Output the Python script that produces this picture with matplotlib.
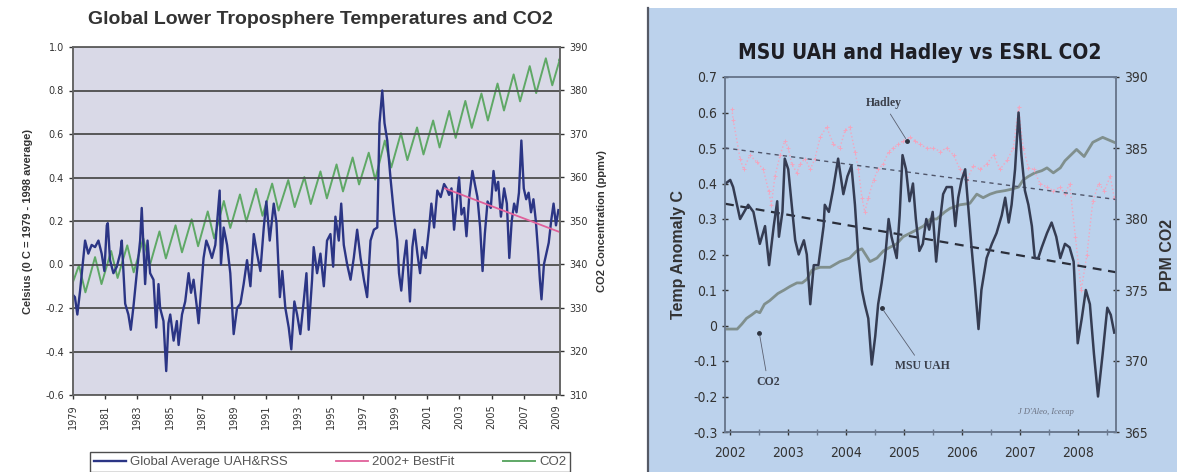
import matplotlib
matplotlib.use('Agg')
import matplotlib.pyplot as plt
from matplotlib import font_manager
from matplotlib.patches import Rectangle
from matplotlib.lines import Line2D

ttf = font_manager.fontManager.ttflist
names = {f.name for f in ttf}
SANS = 'Liberation Sans' if 'Liberation Sans' in names else 'DejaVu Sans'
SERIF = 'Liberation Serif' if 'Liberation Serif' in names else 'DejaVu Serif'
HAS_NARROW = 'Liberation Sans Narrow' in names
HAS_DJ_COND = any(f.name == 'DejaVu Sans' and str(f.stretch) in ('condensed', 'semi-condensed')
                  for f in ttf)
if HAS_NARROW:
    NARROW_KW = dict(family='Liberation Sans Narrow')
    TITLE_SIZE = 18
elif HAS_DJ_COND:
    NARROW_KW = dict(family='DejaVu Sans', stretch='condensed')
    TITLE_SIZE = 15
else:
    NARROW_KW = dict(family=SANS)
    TITLE_SIZE = 14

# ---------------- Left chart data ----------------
left_title = 'Global Lower Troposphere Temperatures and CO2'
left_xticks = list(range(1979, 2010, 2))
left_yticks = [-0.6, -0.4, -0.2, 0.0, 0.2, 0.4, 0.6, 0.8, 1.0]
left_y2ticks = [310, 320, 330, 340, 350, 360, 370, 380, 390]

temp_years = [1979.00, 1979.12, 1979.27, 1979.44, 1979.60, 1979.75, 1979.95, 1980.16, 1980.37, 1980.58,
              1980.78, 1980.95, 1981.10, 1981.16, 1981.30, 1981.51, 1981.72, 1981.93, 1982.03, 1982.24,
              1982.44, 1982.59, 1982.76, 1982.96, 1983.17, 1983.27, 1983.48, 1983.63, 1983.79, 1984.00,
              1984.17, 1984.31, 1984.41, 1984.62, 1984.79, 1984.93, 1985.04, 1985.25, 1985.45, 1985.56,
              1985.77, 1985.97, 1986.18, 1986.33, 1986.49, 1986.70, 1986.80, 1987.01, 1987.11, 1987.28,
              1987.43, 1987.63, 1987.84, 1988.11, 1988.19, 1988.36, 1988.57, 1988.77, 1988.98, 1989.19,
              1989.40, 1989.60, 1989.81, 1990.02, 1990.23, 1990.43, 1990.64, 1990.85, 1991.01, 1991.22,
              1991.47, 1991.64, 1991.85, 1992.00, 1992.19, 1992.40, 1992.56, 1992.75, 1992.92, 1993.12,
              1993.33, 1993.50, 1993.64, 1993.85, 1993.95, 1994.16, 1994.37, 1994.58, 1994.78, 1994.99,
              1995.16, 1995.30, 1995.51, 1995.66, 1995.82, 1996.03, 1996.24, 1996.44, 1996.65, 1996.86,
              1997.07, 1997.27, 1997.48, 1997.69, 1997.90, 1998.04, 1998.21, 1998.35, 1998.52, 1998.73,
              1998.94, 1999.14, 1999.25, 1999.39, 1999.56, 1999.71, 1999.83, 1999.93, 2000.08, 2000.22,
              2000.39, 2000.56, 2000.70, 2000.91, 2001.12, 2001.26, 2001.43, 2001.63, 2001.84, 2002.05,
              2002.21, 2002.36, 2002.51, 2002.67, 2002.84, 2002.98, 2003.13, 2003.29, 2003.44, 2003.61,
              2003.81, 2003.96, 2004.12, 2004.29, 2004.44, 2004.58, 2004.75, 2004.95, 2005.12, 2005.27,
              2005.41, 2005.58, 2005.78, 2005.95, 2006.10, 2006.25, 2006.40, 2006.55, 2006.70, 2006.85,
              2007.00, 2007.15, 2007.30, 2007.45, 2007.60, 2007.75, 2007.90, 2008.00, 2008.10, 2008.25,
              2008.40, 2008.55, 2008.70, 2008.85, 2009.00, 2009.15]
temp_values = [-0.14, -0.15, -0.23, -0.12, 0.00, 0.11, 0.05, 0.09, 0.08, 0.11,
               0.05, -0.03, 0.18, 0.19, 0.02, -0.04, -0.01, 0.05, 0.11, -0.18,
               -0.23, -0.30, -0.19, -0.04, 0.11, 0.26, -0.09, 0.11, -0.04, -0.07,
               -0.29, -0.09, -0.20, -0.26, -0.49, -0.27, -0.23, -0.35, -0.26, -0.37,
               -0.23, -0.17, -0.04, -0.13, -0.07, -0.20, -0.27, -0.07, 0.03, 0.11,
               0.08, 0.03, 0.09, 0.34, 0.00, 0.17, 0.09, -0.04, -0.32, -0.20,
               -0.18, -0.09, 0.02, -0.10, 0.14, 0.05, -0.03, 0.17, 0.29, 0.11,
               0.28, 0.19, -0.15, -0.03, -0.20, -0.29, -0.39, -0.17, -0.23, -0.32,
               -0.17, -0.04, -0.30, -0.07, 0.08, -0.04, 0.05, -0.10, 0.11, 0.14,
               -0.01, 0.22, 0.11, 0.28, 0.09, 0.00, -0.07, 0.03, 0.16, 0.03,
               -0.07, -0.15, 0.11, 0.16, 0.17, 0.65, 0.80, 0.65, 0.57, 0.39,
               0.23, 0.11, -0.04, -0.12, 0.02, 0.11, -0.04, -0.17, 0.08, 0.16,
               0.05, -0.04, 0.08, 0.03, 0.17, 0.28, 0.17, 0.34, 0.31, 0.37,
               0.35, 0.32, 0.35, 0.16, 0.29, 0.40, 0.23, 0.26, 0.13, 0.31,
               0.43, 0.37, 0.31, 0.17, -0.03, 0.14, 0.29, 0.26, 0.43, 0.34,
               0.38, 0.22, 0.35, 0.28, 0.03, 0.20, 0.28, 0.24, 0.33, 0.57,
               0.35, 0.30, 0.33, 0.24, 0.30, 0.20, 0.05, -0.07, -0.16, 0.00,
               0.05, 0.10, 0.20, 0.28, 0.18, 0.25]

fit_years = [2002.1, 2009.2]
fit_values = [0.35, 0.15]

co2_cycle_years = list(range(1979, 2010))
co2_peak_ppm = [339.8, 341.7, 343.1, 344.4, 346.0, 347.6, 349.0, 350.4, 352.2, 354.6,
                356.1, 357.4, 358.6, 359.4, 360.1, 361.4, 363.0, 364.6, 365.7, 368.5,
                370.2, 371.5, 373.1, 375.3, 377.6, 379.3, 381.6, 383.7, 385.6, 387.4, 388.8]
co2_trough_ppm = [333.6, 335.5, 336.9, 338.2, 339.8, 341.4, 342.8, 344.2, 346.0, 348.4,
                  349.9, 351.2, 352.4, 353.2, 353.9, 355.2, 356.8, 358.4, 359.5, 362.3,
                  364.0, 365.3, 366.9, 369.1, 371.4, 373.1, 375.4, 377.5, 379.4, 381.2]
co2_start = (1979.0, 336.0)
co2_end = (2009.2, 387.0)
PEAK_PHASE, TROUGH_PHASE = 0.37, 0.77

legend_labels = ['Global Average UAH&RSS', '2002+ BestFit', 'CO2']

# ---------------- Right chart data ----------------
right_title = 'MSU UAH and Hadley vs ESRL CO2'
right_xticks = [2002, 2003, 2004, 2005, 2006, 2007, 2008]
right_yticks = [-0.3, -0.2, -0.1, 0.0, 0.1, 0.2, 0.3, 0.4, 0.5, 0.6, 0.7]
right_ytick_labels = ['-0.3', '-0.2', '-0.1', '0', '0.1', '0.2', '0.3', '0.4', '0.5', '0.6', '0.7']
right_y2ticks = [365, 370, 375, 380, 385, 390]

uah_years = [2001.92, 2002.00, 2002.05, 2002.17, 2002.31, 2002.40, 2002.51, 2002.60, 2002.67, 2002.75,
             2002.81, 2002.84, 2002.90, 2002.94, 2003.00, 2003.12, 2003.18, 2003.27, 2003.32, 2003.38,
             2003.44, 2003.52, 2003.61, 2003.63, 2003.70, 2003.77, 2003.86, 2003.95, 2004.02, 2004.09,
             2004.15, 2004.21, 2004.27, 2004.32, 2004.38, 2004.44, 2004.50, 2004.55, 2004.61, 2004.67,
             2004.73, 2004.78, 2004.87, 2004.92, 2004.97, 2005.03, 2005.09, 2005.15, 2005.20, 2005.26,
             2005.32, 2005.38, 2005.43, 2005.49, 2005.55, 2005.62, 2005.67, 2005.73, 2005.82, 2005.88,
             2005.93, 2005.99, 2006.05, 2006.11, 2006.16, 2006.22, 2006.28, 2006.33, 2006.42, 2006.51,
             2006.59, 2006.68, 2006.74, 2006.80, 2006.85, 2006.91, 2006.97, 2007.02, 2007.08, 2007.14,
             2007.20, 2007.25, 2007.31, 2007.37, 2007.46, 2007.54, 2007.62, 2007.69, 2007.77, 2007.85,
             2007.92, 2007.99, 2008.06, 2008.13, 2008.20, 2008.27, 2008.34, 2008.42, 2008.50, 2008.56,
             2008.62]
uah_values = [0.40, 0.41, 0.39, 0.30, 0.34, 0.32, 0.23, 0.28, 0.17, 0.28,
              0.35, 0.25, 0.32, 0.47, 0.44, 0.24, 0.20, 0.24, 0.20, 0.06,
              0.17, 0.17, 0.28, 0.34, 0.32, 0.38, 0.47, 0.37, 0.42, 0.45,
              0.34, 0.19, 0.10, 0.06, 0.02, -0.11, -0.03, 0.06, 0.12, 0.19,
              0.30, 0.25, 0.19, 0.31, 0.48, 0.44, 0.35, 0.40, 0.30, 0.21,
              0.23, 0.30, 0.27, 0.32, 0.18, 0.30, 0.37, 0.39, 0.39, 0.28,
              0.36, 0.41, 0.44, 0.32, 0.22, 0.11, -0.01, 0.10, 0.19, 0.23,
              0.26, 0.31, 0.36, 0.29, 0.34, 0.44, 0.60, 0.48, 0.38, 0.34,
              0.28, 0.19, 0.19, 0.22, 0.26, 0.29, 0.25, 0.19, 0.23, 0.22,
              0.18, -0.05, 0.02, 0.10, 0.06, -0.08, -0.20, -0.08, 0.05, 0.03,
              -0.02]

hadley_years = [2002.03, 2002.05, 2002.17, 2002.23, 2002.34, 2002.46, 2002.57, 2002.66, 2002.71, 2002.77,
                2002.86, 2002.94, 2003.00, 2003.06, 2003.15, 2003.20, 2003.29, 2003.38, 2003.46, 2003.55,
                2003.66, 2003.78, 2003.89, 2003.98, 2004.06, 2004.15, 2004.21, 2004.27, 2004.32, 2004.38,
                2004.47, 2004.55, 2004.64, 2004.73, 2004.81, 2004.90, 2004.98, 2005.10, 2005.19, 2005.27,
                2005.39, 2005.50, 2005.62, 2005.73, 2005.85, 2005.96, 2006.08, 2006.19, 2006.31, 2006.42,
                2006.54, 2006.65, 2006.77, 2006.88, 2006.97, 2007.05, 2007.14, 2007.23, 2007.34, 2007.46,
                2007.57, 2007.69, 2007.77, 2007.85, 2007.95, 2008.05, 2008.15, 2008.25, 2008.35, 2008.45,
                2008.55, 2008.62]
hadley_values = [0.61, 0.58, 0.47, 0.44, 0.48, 0.46, 0.44, 0.38, 0.34, 0.42,
                 0.48, 0.52, 0.50, 0.455, 0.43, 0.455, 0.47, 0.44, 0.47, 0.53,
                 0.56, 0.51, 0.50, 0.55, 0.56, 0.49, 0.44, 0.36, 0.32, 0.36,
                 0.41, 0.44, 0.455, 0.49, 0.50, 0.51, 0.52, 0.53, 0.52, 0.51,
                 0.50, 0.50, 0.49, 0.50, 0.48, 0.44, 0.41, 0.45, 0.44, 0.455,
                 0.48, 0.44, 0.465, 0.50, 0.615, 0.50, 0.445, 0.44, 0.40, 0.39,
                 0.38, 0.39, 0.37, 0.40, 0.25, 0.10, 0.20, 0.35, 0.40, 0.38,
                 0.42, 0.36]

uah_trend_years = [2001.91, 2008.65]
uah_trend_values = [0.343, 0.150]
hadley_trend_years = [2001.91, 2008.65]
hadley_trend_values = [0.500, 0.355]

esrl_years = [2001.92, 2002.00, 2002.12, 2002.20, 2002.28, 2002.37, 2002.45, 2002.51, 2002.59, 2002.68,
              2002.82, 2002.93, 2003.03, 2003.15, 2003.24, 2003.32, 2003.41, 2003.47, 2003.55, 2003.72,
              2003.89, 2004.06, 2004.18, 2004.27, 2004.41, 2004.53, 2004.64, 2004.75, 2004.87, 2004.98,
              2005.10, 2005.22, 2005.33, 2005.45, 2005.56, 2005.70, 2005.79, 2005.96, 2006.13, 2006.25,
              2006.36, 2006.48, 2006.59, 2006.74, 2006.85, 2006.97, 2007.05, 2007.14, 2007.25, 2007.37,
              2007.46, 2007.57, 2007.69, 2007.77, 2007.97, 2008.10, 2008.25, 2008.42, 2008.62]
esrl_ppm = [372.25, 372.25, 372.25, 372.6, 373.0, 373.25, 373.5, 373.4, 374.0, 374.25,
            374.75, 375.0, 375.25, 375.5, 375.5, 375.75, 376.4, 376.5, 376.6, 376.6,
            377.0, 377.25, 377.75, 377.9, 377.0, 377.25, 377.75, 378.0, 378.25, 378.75,
            379.0, 379.25, 379.5, 380.0, 380.0, 380.5, 380.75, 381.0, 381.1, 381.75,
            381.5, 381.75, 381.9, 382.0, 382.1, 382.25, 382.75, 383.0, 383.25, 383.4,
            383.6, 383.25, 383.6, 384.1, 384.9, 384.4, 385.4, 385.75, 385.4]

# ---------------- Figure ----------------
W, H = 1177, 472
fig = plt.figure(figsize=(W / 100, H / 100), dpi=100)
fig.patch.set_facecolor('white')


def fx(px):
    return px / W


def fy(py):
    return 1 - py / H


# ===== Left chart =====
axT = fig.add_axes([fx(73), fy(395), fx(560) - fx(73), fy(47) - fy(395)])
axC = axT.twinx()
axT.set_zorder(axC.get_zorder() + 1)
axT.patch.set_visible(False)
axC.patch.set_facecolor('#d9d9e7')
axC.patch.set_visible(True)

co2_x = [co2_start[0]]
co2_y = [co2_start[1]]
for i, yr in enumerate(co2_cycle_years):
    co2_x.append(yr + PEAK_PHASE)
    co2_y.append(co2_peak_ppm[i])
    if i < len(co2_trough_ppm):
        co2_x.append(yr + TROUGH_PHASE)
        co2_y.append(co2_trough_ppm[i])
co2_x.append(co2_end[0])
co2_y.append(co2_end[1])
l_co2, = axC.plot(co2_x, co2_y, color='#5fa866', lw=1.4)

l_temp, = axT.plot(temp_years, temp_values, color='#2b3585', lw=1.7)
l_fit, = axT.plot(fit_years, fit_values, color='#e0609a', lw=1.3)

axT.set_xlim(1979, 2009.25)
axT.set_ylim(-0.6, 1.0)
axC.set_ylim(310, 390)
axT.set_yticks(left_yticks)
axT.set_yticklabels([f'{v:.1f}' for v in left_yticks])
axC.set_yticks(left_y2ticks)
axT.set_xticks(left_xticks)
axT.set_xticklabels([str(v) for v in left_xticks], rotation=90)
axT.yaxis.grid(True, color='#4d4d4d', lw=1.3)
axT.xaxis.grid(False)
axT.set_axisbelow(True)
for a in (axT, axC):
    for s in a.spines.values():
        s.set_color('#666666')
        s.set_linewidth(1.2)
    a.tick_params(labelsize=7, colors='#333333', length=3, width=1)
axT.tick_params(axis='x', labelsize=7, pad=4)

fig.text(fx(320), fy(19), left_title, ha='center', va='center', fontsize=14,
         fontweight='bold', family=SANS, color='#333333')
axT.set_ylabel('Celsius (0 C = 1979 - 1998 average)', fontsize=8, fontweight='bold',
               family=SANS, color='#333333', labelpad=9)
axC.set_ylabel('CO2 Concentration (ppmv)', fontsize=8, fontweight='bold',
               family=SANS, color='#333333', labelpad=7)

leg = fig.legend(handles=[l_temp, l_fit, l_co2], labels=legend_labels,
                 loc='upper left', bbox_to_anchor=(fx(90), fy(452) - 0.06, fx(570) - fx(90), 0.06),
                 mode='expand', borderaxespad=0.0, ncol=3, frameon=True, fancybox=False,
                 handlelength=2.4, handletextpad=0.3, borderpad=0.3,
                 prop={'family': SANS, 'size': 9.5})
leg.get_frame().set_edgecolor('#222222')
leg.get_frame().set_linewidth(1.0)
for t in leg.get_texts():
    t.set_color('#555555')

# ===== Right chart panel =====
fig.add_artist(Rectangle((fx(648), 0), 1 - fx(648), fy(8), transform=fig.transFigure,
                         facecolor='#bcd2ec', edgecolor='none', zorder=0))
fig.add_artist(Line2D([fx(648), fx(648)], [0, fy(8)], transform=fig.transFigure,
                      color='#555a66', lw=1.6, zorder=1))

axR = fig.add_axes([fx(725), fy(432), fx(1116) - fx(725), fy(77) - fy(432)])
axRc = axR.twinx()
axR.set_zorder(axRc.get_zorder() + 1)
axR.patch.set_visible(False)
axRc.patch.set_visible(False)

axRc.plot(esrl_years, esrl_ppm, color='#7d8c88', lw=2.0, alpha=0.95)
axR.plot(hadley_years, hadley_values, color='#f2a6bf', lw=1.0, ls=':', marker='+',
         markersize=3, markeredgewidth=0.7)
axR.plot(hadley_trend_years, hadley_trend_values, color='#50566a', lw=1.0, ls=(0, (3, 3)))
axR.plot(uah_trend_years, uah_trend_values, color='#2a2e3a', lw=1.6, ls=(0, (4, 3)))
axR.plot(uah_years, uah_values, color='#353c52', lw=1.8)

axR.set_xlim(2001.91, 2008.65)
axR.set_ylim(-0.3, 0.7)
axRc.set_ylim(365, 390)
axR.set_xticks(right_xticks)
axR.set_xticklabels([str(v) for v in right_xticks])
axR.set_xticks([v + 0.5 for v in right_xticks], minor=True)
axR.set_yticks(right_yticks)
axR.set_yticklabels(right_ytick_labels)
axRc.set_yticks(right_y2ticks)
for a in (axR, axRc):
    for s in a.spines.values():
        s.set_color('#6b7a90')
        s.set_linewidth(1.2)
    a.tick_params(labelsize=10, colors='#333333', length=4, width=1, direction='inout')
    for lab in a.get_xticklabels() + a.get_yticklabels():
        lab.set(**NARROW_KW)
axR.tick_params(axis='x', which='minor', length=4, width=1, direction='inout', colors='#6b7a90')
axR.tick_params(axis='x', pad=8)

fig.text(fx(920), fy(53), right_title, ha='center', va='center', fontsize=TITLE_SIZE,
         fontweight='bold', color='#1e1e24', **NARROW_KW)
axR.set_ylabel('Temp Anomaly C', fontsize=11.5, fontweight='bold', family=SANS,
               color='#333333', labelpad=5)
axRc.set_ylabel('PPM CO2', fontsize=11.5, fontweight='bold', family=SANS,
                color='#333333', labelpad=9)

ann_kw = dict(arrowprops=dict(arrowstyle='-', color='#5a6070', lw=0.6),
              fontsize=8.5, family=SERIF, fontweight='bold', color='#3a3f4a',
              ha='center', va='center')
axR.annotate('Hadley', xy=(2005.05, 0.52), xytext=(2004.64, 0.627), **ann_kw)
axR.annotate('MSU UAH', xy=(2004.61, 0.05), xytext=(2005.31, -0.115), **ann_kw)
axR.annotate('CO2', xy=(2002.50, -0.02), xytext=(2002.65, -0.16), **ann_kw)
axR.plot([2005.05, 2004.61, 2002.50], [0.52, 0.05, -0.02], ls='none', marker='o',
         markersize=2.5, color='#2d3340')
axR.text(2007.45, -0.245, "J D'Aleo, Icecap", fontsize=6, fontstyle='italic', family=SERIF,
         color='#6a7080', ha='center', va='center')

fig.savefig('out.png', dpi=100)
